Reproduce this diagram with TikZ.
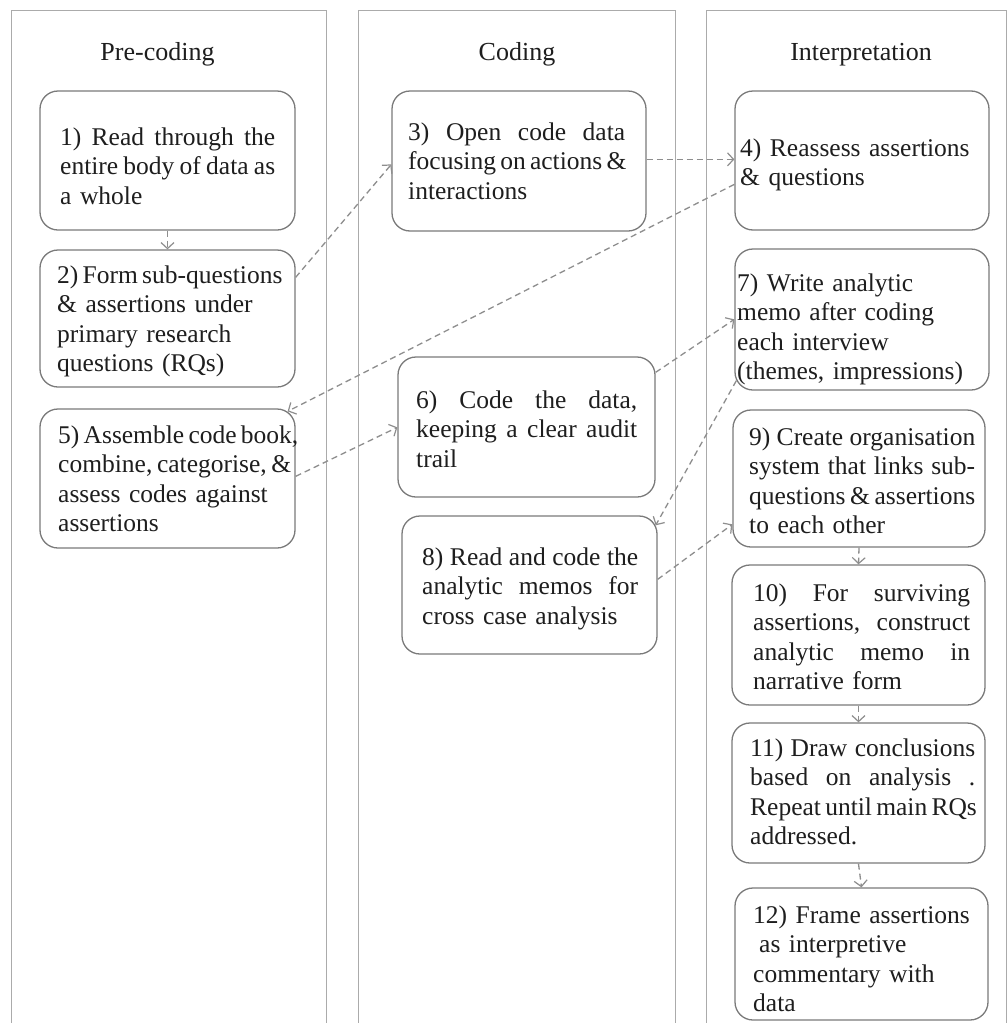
\documentclass[tikz,border=0pt]{standalone}
\usepackage{fontspec}
\setmainfont{Liberation Serif}
\usetikzlibrary{arrows.meta}
\definecolor{lanegray}{HTML}{ABABAB}
\definecolor{boxgray}{HTML}{7A7A7A}
\definecolor{arrowgray}{HTML}{8E8E8E}
\definecolor{inkgray}{HTML}{1E1E1E}
% a line whose interword spaces stretch (or shrink) to a given width
\newcommand{\jl}[2]{\leavevmode\hbox to #1{\spaceskip=0pt\xspaceskip=0pt #2}}

\begin{document}
\begin{tikzpicture}[x=1pt,y=-1pt,
  lane/.style={draw=lanegray, line width=1pt},
  stage/.style={draw=boxgray, line width=1.3pt, rounded corners=18pt,
    inner sep=0pt, fill=white},
  label/.style={font=\fontsize{25.5}{29.5}\selectfont, text=inkgray,
    inner sep=0pt, anchor=base west, align=left, text width=260pt},
  head/.style={font=\fontsize{26}{29.5}\selectfont, text=inkgray,
    inner sep=0pt, anchor=base},
  link/.style={draw=arrowgray, line width=1.3pt, dash pattern=on 6pt off 4pt,
    -{Straight Barb[length=6pt,width=13pt,line width=1.2pt]}},
]
\useasboundingbox (0,0) rectangle (1008,1023);
\fill[white] (0,0) rectangle (1008,1023);
\clip (0,0) rectangle (1008,1023);

% swim lanes, open at the bottom
\draw[lane] (11,1030) -- (11,10) -- (326,10) -- (326,1030);
\draw[lane] (358,1030) -- (358,10) -- (675,10) -- (675,1030);
\draw[lane] (706,1030) -- (706,10) -- (1006,10) -- (1006,1030);

% lane headings
\node[head] (h1) at (157.5,60) {Pre-coding};
\node[head] (h2) at (517,60) {Coding};
\node[head] (h3) at (861,60) {Interpretation};

% stage boxes
\node[stage, minimum width=255pt, minimum height=139pt] (b1)  at (167.5,160.5) {};
\node[stage, minimum width=255pt, minimum height=137pt] (b2)  at (167.5,318.5) {};
\node[stage, minimum width=255pt, minimum height=139pt] (b5)  at (167.5,478.5) {};
\node[stage, minimum width=254pt, minimum height=140pt] (b3)  at (519,161) {};
\node[stage, minimum width=257pt, minimum height=140pt] (b6)  at (526.5,427) {};
\node[stage, minimum width=255pt, minimum height=138pt] (b8)  at (529.5,585) {};
\node[stage, minimum width=254pt, minimum height=139pt] (b4)  at (862,160.5) {};
\node[stage, minimum width=254pt, minimum height=141pt] (b7)  at (862,319.5) {};
\node[stage, minimum width=252pt, minimum height=137pt] (b9)  at (859,478.5) {};
\node[stage, minimum width=253pt, minimum height=140pt] (b10) at (858.5,635) {};
\node[stage, minimum width=253pt, minimum height=140pt] (b11) at (858.5,793) {};
\node[stage, minimum width=253pt, minimum height=132pt] (b12) at (861.5,954) {};

% stage texts
\node[label] (t1) at (60,145)
  {\jl{215pt}{1) Read through the}\\\jl{215pt}{entire body of data as}\\a whole};
\node[label] (t2) at (57,283)
  {\jl{222pt}{2) Form sub-questions}\\\& assertions under\\primary research\\questions (RQs)};
\node[label] (t5) at (58,443)
  {\jl{238pt}{5) Assemble code book,}\\\jl{225pt}{combine, categorise, \&}\\assess codes against\\assertions};
\node[label] (t3) at (408,140)
  {\jl{217pt}{3) Open code data}\\\jl{217pt}{focusing on actions \&}\\interactions};
\node[label] (t6) at (416,408)
  {\jl{221pt}{6) Code the data,}\\\jl{221pt}{keeping a clear audit}\\trail};
\node[label] (t8) at (422,565)
  {\jl{216pt}{8) Read and code the}\\\jl{216pt}{analytic memos for}\\cross case analysis};
\node[label] (t4) at (740,156)
  {4) Reassess assertions\\\& questions};
\node[label] (t7) at (737,291)
  {7) Write analytic\\memo after coding\\each interview\\(themes, impressions)};
\node[label] (t9) at (749,445)
  {\jl{226pt}{9) Create organisation}\\\jl{226pt}{system that links sub-}\\\jl{226pt}{questions \& assertions}\\to each other};
\node[label] (t10) at (753,601)
  {\jl{217pt}{10) For surviving}\\\jl{217pt}{assertions, construct}\\\jl{217pt}{analytic memo in}\\narrative form};
\node[label] (t11) at (750,756)
  {\jl{225pt}{11) Draw conclusions}\\\jl{225pt}{based on analysis .}\\\jl{225pt}{Repeat until main RQs}\\addressed.};
\node[label] (t12) at (753,923)
  {12) Frame assertions\\\hspace*{6pt}as interpretive\\commentary with\\data};

% connectors
\draw[link] (b1.south) -- (b2.north);
\draw[link] ([yshift=-28pt]b2.north east) -- ([yshift=-74pt]b3.north west);
\draw[link] ([yshift=-69pt]b3.north east) -- ([yshift=-69pt]b4.north west);
\draw[link] ([yshift=-94pt]b4.north west) -- ([xshift=-8pt,yshift=-3pt]b5.north east);
\draw[link] ([yshift=-68pt]b5.north east) -- ([yshift=-71pt]b6.north west);
\draw[link] ([yshift=-16pt]b6.north east) -- ([yshift=-71pt]b7.north west);
\draw[link] ([xshift=2pt,yshift=10pt]b7.south west) -- ([xshift=-2pt,yshift=-10pt]b8.north east);
\draw[link] ([yshift=-64pt]b8.north east) -- ([yshift=-115pt]b9.north west);
\draw[link] (b9.south) -- (b10.north);
\draw[link] (b10.south) -- (b11.north);
\draw[link] (b11.south) -- (b12.north);
\end{tikzpicture}
\end{document}
